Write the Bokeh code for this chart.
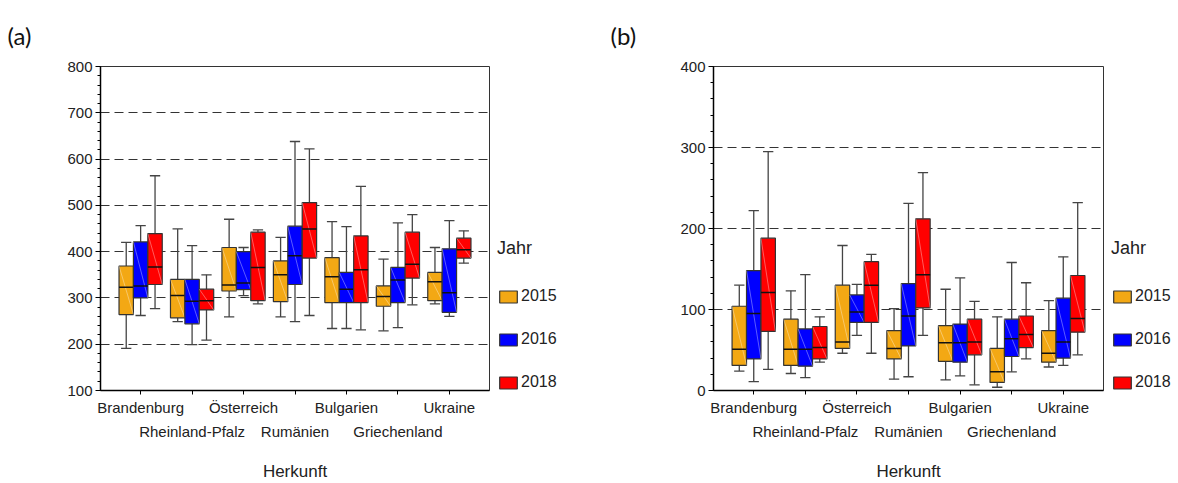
from bokeh.plotting import figure
from bokeh.models import (Range1d, LinearAxis, FixedTicker, Legend, LegendItem,
                          ColumnDataSource)
from bokeh.layouts import row
from bokeh.embed import file_html
from bokeh.resources import INLINE

CATEGORIES = ["Brandenburg", "Rheinland-Pfalz", "Österreich", "Rumänien",
              "Bulgarien", "Griechenland", "Ukraine"]
YEARS = ["2015", "2016", "2018"]
COLORS = ["#F3A814", "#0000FF", "#FF0000"]

# Panel (a): whisker low, Q1, median, Q3, whisker high per category
A15_LO = [191, 249, 259, 259, 234, 229, 287]
A15_Q1 = [264, 257, 315, 292, 290, 282, 294]
A15_MED = [323, 305, 328, 350, 346, 303, 335]
A15_Q3 = [369, 340, 409, 380, 387, 326, 355]
A15_HI = [420, 449, 470, 431, 465, 384, 409]

A16_LO = [262, 199, 305, 249, 234, 236, 260]
A16_Q1 = [300, 244, 318, 329, 290, 290, 269]
A16_MED = [326, 293, 332, 391, 319, 339, 311]
A16_Q3 = [421, 340, 400, 455, 355, 366, 406]
A16_HI = [456, 413, 409, 638, 454, 462, 467]

A18_LO = [277, 209, 287, 262, 231, 285, 375]
A18_Q1 = [329, 274, 294, 386, 290, 343, 386]
A18_MED = [367, 294, 366, 449, 361, 373, 404]
A18_Q3 = [439, 319, 442, 506, 434, 442, 429]
A18_HI = [564, 350, 447, 622, 541, 480, 445]

# Panel (b)
B15_LO = [24, 21, 46, 14, 13, 4, 29]
B15_Q1 = [31, 31, 52, 39, 36, 10, 35]
B15_MED = [51, 51, 60, 52, 59, 23, 46]
B15_Q3 = [104, 88, 130, 74, 80, 52, 74]
B15_HI = [130, 123, 179, 101, 125, 91, 111]

B16_LO = [11, 16, 68, 17, 18, 23, 31]
B16_Q1 = [39, 30, 84, 55, 35, 42, 40]
B16_MED = [95, 51, 97, 92, 59, 64, 60]
B16_Q3 = [148, 76, 118, 132, 82, 88, 114]
B16_HI = [222, 143, 131, 231, 139, 158, 165]

B18_LO = [26, 35, 46, 68, 7, 39, 44]
B18_Q1 = [73, 39, 84, 102, 44, 53, 72]
B18_MED = [121, 53, 130, 143, 60, 69, 89]
B18_Q3 = [188, 79, 159, 212, 88, 92, 142]
B18_HI = [295, 91, 168, 269, 110, 133, 232]

A_TICKS = [100, 200, 300, 400, 500, 600, 700, 800]
B_TICKS = [0, 100, 200, 300, 400]

FONT = "Liberation Sans"
BOX_W = 0.28
OFFSETS = [-0.28, 0.0, 0.28]
TOP, BOTTOM, HEIGHT = 66, 92, 483


def make_sources(series):
    sources = []
    for k in range(len(YEARS)):
        lo, q1, med, q3, hi = series[k]
        xc = [i + OFFSETS[k] for i in range(len(CATEGORIES))]
        sources.append(ColumnDataSource(dict(
            x=xc,
            left=[x - BOX_W / 2 for x in xc],
            right=[x + BOX_W / 2 for x in xc],
            cap_l=[x - 0.1 for x in xc],
            cap_r=[x + 0.1 for x in xc],
            lo=lo, q1=q1, med=med, q3=q3, hi=hi)))
    return sources


def make_panel(tag, sources, y_lo, y_hi, y_ticks, width, border_left):
    p = figure(width=width, height=HEIGHT,
               x_range=Range1d(-0.78, 6.78), y_range=Range1d(y_lo, y_hi),
               output_backend="svg", toolbar_location=None,
               min_border_left=border_left, min_border_right=2,
               min_border_top=TOP, min_border_bottom=BOTTOM)
    p.background_fill_color = "white"
    p.border_fill_color = "white"
    p.outline_line_color = "#333333"
    p.outline_line_width = 1

    p.title.text = tag
    p.title.text_font = "Lato"
    p.title.text_font_size = "24px"
    p.title.text_font_style = "normal"
    p.title.text_color = "#111111"
    p.title.align = "left"
    p.title.offset = -(border_left - 7)
    p.title.standoff = 34

    # grid
    p.xgrid.visible = False
    p.ygrid.ticker = FixedTicker(ticks=y_ticks)
    p.ygrid.grid_line_color = "#333333"
    p.ygrid.grid_line_dash = "9 5"
    p.ygrid.grid_line_width = 1

    # y axis
    ya = p.yaxis[0]
    minors = list(range(y_ticks[0], y_ticks[-1] + 1, 20))
    ya.ticker = FixedTicker(ticks=y_ticks, minor_ticks=minors)
    ya.axis_line_color = "black"
    ya.axis_line_width = 1.5
    ya.major_tick_out = 5
    ya.major_tick_in = 0
    ya.minor_tick_out = 3
    ya.minor_tick_in = 0
    ya.major_tick_line_color = "black"
    ya.minor_tick_line_color = "black"
    ya.major_label_standoff = 3
    ya.major_label_text_font = FONT
    ya.major_label_text_font_size = "15px"
    ya.major_label_text_color = "#222222"

    # x axis, first row of labels
    xa = p.xaxis[0]
    xa.ticker = FixedTicker(ticks=list(range(len(CATEGORIES))), minor_ticks=[])
    xa.major_label_overrides = {i: (c if i % 2 == 0 else "") for i, c in enumerate(CATEGORIES)}
    xa.axis_line_color = "black"
    xa.axis_line_width = 1.5
    xa.major_tick_out = 4
    xa.major_tick_in = 0
    xa.major_tick_line_color = "black"
    xa.minor_tick_line_color = None
    xa.major_label_standoff = 4
    xa.major_label_text_font = FONT
    xa.major_label_text_font_size = "15px"
    xa.major_label_text_color = "#222222"

    # second row of labels
    xb = LinearAxis(ticker=FixedTicker(ticks=[i for i in range(len(CATEGORIES)) if i % 2 == 1], minor_ticks=[]),
                    major_label_overrides={i: c for i, c in enumerate(CATEGORIES) if i % 2 == 1},
                    axis_line_color=None, major_tick_line_color=None, minor_tick_line_color=None,
                    major_tick_out=0, major_tick_in=0, major_label_standoff=4,
                    major_label_text_font=FONT, major_label_text_font_size="15px",
                    major_label_text_color="#222222",
                    axis_label="Herkunft", axis_label_standoff=19,
                    axis_label_text_font=FONT, axis_label_text_font_size="17px",
                    axis_label_text_font_style="normal", axis_label_text_color="#222222")
    p.add_layout(xb, "below")

    for src, color in zip(sources, COLORS):
        # whiskers
        p.segment(x0="x", y0="q3", x1="x", y1="hi", source=src, line_color="#444444", line_width=1.3)
        p.segment(x0="x", y0="q1", x1="x", y1="lo", source=src, line_color="#444444", line_width=1.3)
        p.segment(x0="cap_l", y0="hi", x1="cap_r", y1="hi", source=src, line_color="#444444", line_width=1.3)
        p.segment(x0="cap_l", y0="lo", x1="cap_r", y1="lo", source=src, line_color="#444444", line_width=1.3)
        # boxes
        p.quad(left="left", right="right", bottom="q1", top="q3", source=src,
               fill_color=color, line_color="#333333", line_width=1.2)
        p.segment(x0="left", y0="q3", x1="right", y1="q1", source=src,
                  line_color="white", line_alpha=0.45, line_width=0.8)
        p.segment(x0="left", y0="med", x1="right", y1="med", source=src,
                  line_color="#111111", line_width=1.5)
    return p


def make_legend(width, sources):
    # a narrow figure holding only the legend; its boxes share the data
    # sources but lie outside its (0..1) ranges, so only the legend shows
    lf = figure(width=width, height=HEIGHT, x_range=Range1d(0, 1), y_range=Range1d(0, 1),
                output_backend="svg", toolbar_location=None,
                x_axis_location=None, y_axis_location=None,
                min_border_left=0, min_border_right=0,
                min_border_top=TOP, min_border_bottom=70)
    lf.outline_line_color = None
    lf.grid.visible = False
    lf.background_fill_color = "white"
    lf.border_fill_color = "white"
    items = []
    for year, color, src in zip(YEARS, COLORS, sources):
        r = lf.quad(left="left", right="right", bottom="q1", top="q3", source=src,
                    fill_color=color, line_color="#333333", line_width=1.2)
        items.append(LegendItem(label=year, renderers=[r]))
    legend = Legend(items=items, location=(6, -1), title="Jahr",
                    title_text_font=FONT, title_text_font_size="18px",
                    title_text_font_style="normal", title_text_color="#222222",
                    label_text_font=FONT, label_text_font_size="16px",
                    label_text_color="#222222",
                    glyph_width=22, glyph_height=15, label_height=15,
                    spacing=25, padding=0, margin=0, label_standoff=2,
                    title_standoff=28,
                    border_line_color=None, background_fill_alpha=0)
    lf.add_layout(legend)
    return lf


src_a = make_sources([(A15_LO, A15_Q1, A15_MED, A15_Q3, A15_HI),
                      (A16_LO, A16_Q1, A16_MED, A16_Q3, A16_HI),
                      (A18_LO, A18_Q1, A18_MED, A18_Q3, A18_HI)])
src_b = make_sources([(B15_LO, B15_Q1, B15_MED, B15_Q3, B15_HI),
                      (B16_LO, B16_Q1, B16_MED, B16_Q3, B16_HI),
                      (B18_LO, B18_Q1, B18_MED, B18_Q3, B18_HI)])

pa = make_panel("(a)", src_a, 100, 800, A_TICKS, 491, 100)
la = make_legend(112, src_a)
pb = make_panel("(b)", src_b, 0, 400, B_TICKS, 502, 110)
lb = make_legend(73, src_b)

layout = row(pa, la, pb, lb, spacing=0)
open("out.html", "w").write(file_html(layout, INLINE))
